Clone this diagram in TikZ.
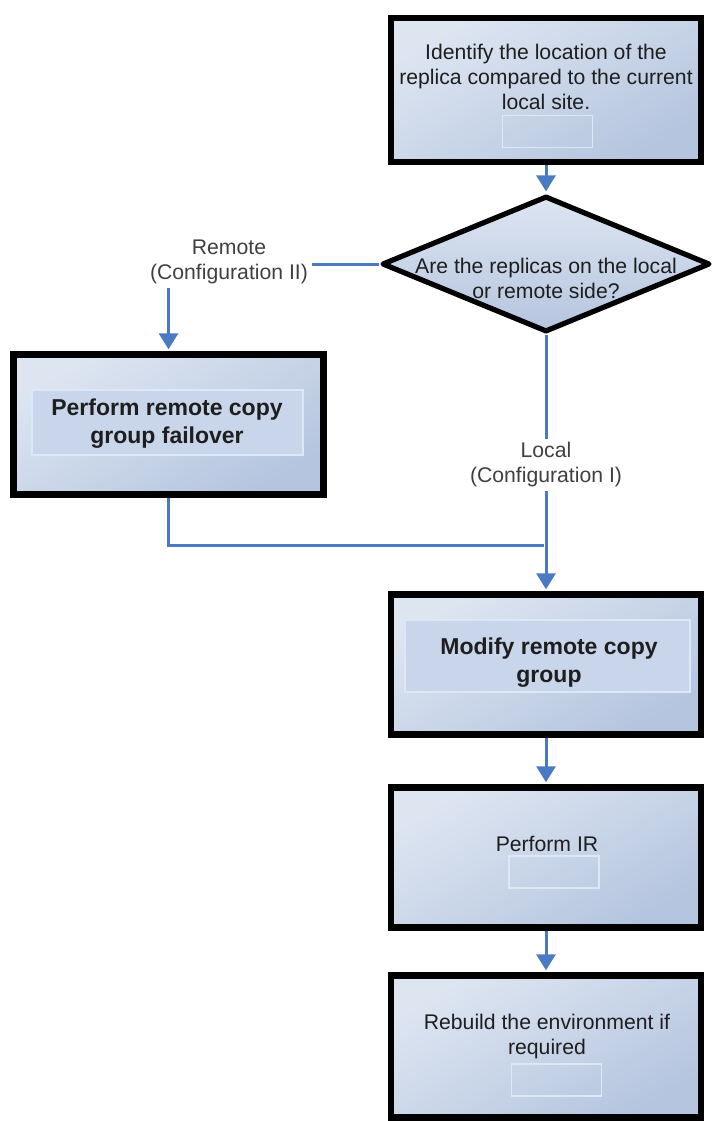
\documentclass[tikz,border=0pt]{standalone}
\usepackage{fontspec}
\setmainfont{Liberation Sans}
\usepackage{tikz}
\usetikzlibrary{shapes.geometric, arrows.meta}

\definecolor{boxlight}{HTML}{DDE5F1}
\definecolor{boxdark}{HTML}{B5C5DF}
\definecolor{flowblue}{HTML}{4A7AC2}
\definecolor{bandfill}{HTML}{C8D5EA}
\definecolor{bandline}{HTML}{DCE8F6}
\definecolor{inkgray}{HTML}{1E1E1E}

\begin{document}
\begin{tikzpicture}[x=0.5pt, y=-0.5pt, >={Triangle[width=9.5pt,length=8pt]}, font=\fontsize{10.6}{12.5}\selectfont]
    \tikzstyle{stepbox}=[rectangle, draw=black, line width=3.2pt, top color=boxlight, bottom color=boxdark, shading angle=30, minimum width=155pt, minimum height=70pt, inner sep=0pt]
    \tikzstyle{decision}=[diamond, draw=black, line width=2.6pt, line join=round, top color=boxlight, bottom color=boxdark, minimum width=164pt, minimum height=68pt, inner sep=0pt]
    \tikzstyle{steptext}=[text=inkgray, align=center, inner sep=0pt]
    \tikzstyle{boldtext}=[steptext, font=\fontsize{11.5}{14}\selectfont\bfseries]
    \tikzstyle{branch}=[fill=white, text=inkgray!85, align=center, inner sep=2pt]
    \tikzstyle{band}=[draw=bandline, line width=0.9pt, fill=bandfill]
    \tikzstyle{holder}=[draw=bandline, line width=0.7pt, minimum width=45pt, minimum height=16pt]
    \tikzstyle{flow}=[draw=flowblue, line width=1.5pt, shorten >=1pt]
    \useasboundingbox (0,0) rectangle (713,1121);

    \node[stepbox, minimum height=72pt] (identify) at (546,90) {};
    \node[decision] (decide) at (546,264) {};
    \node[stepbox] (failover) at (168.5,424.5) {};
    \node[stepbox] (modify) at (546,664.5) {};
    \node[stepbox] (performir) at (546,857.5) {};
    \node[stepbox, minimum height=71pt] (rebuild) at (546,1046.5) {};

    % inner panels
    \node[band, minimum width=135.5pt, minimum height=32.5pt] (failoverband) at (167.5,422.5) {};
    \node[band, minimum width=142.5pt, minimum height=36pt] (modifyband) at (547.5,656) {};
    \node[holder] (identifyholder) at (547.5,131.5) {};
    \node[holder] (performirholder) at (554,872) {};
    \node[holder] (rebuildholder) at (556.5,1080) {};

    \node[steptext] (identifytext) at (546,77) {Identify the location of the\\replica compared to the current\\local site.};
    \node[steptext] (decidetext) at (546,278) {Are the replicas on the local\\or remote side?};
    \node[boldtext] (failovertext) at (167,424) {Perform remote copy\\group failover};
    \node[boldtext] (modifytext) at (549,663) {Modify remote copy\\group};
    \node[steptext] (performirtext) at (547,844) {Perform IR};
    \node[steptext] (rebuildtext) at (547,1037) {Rebuild the environment if\\required};

    \coordinate (join) at (546,545);
    \draw[flow, ->] (identify.south) -- (decide.north);
    \draw[flow, ->] (decide.west) -| (failover.north);
    \draw[flow] (failover.south) |- (join);
    \draw[flow, ->] (decide.south) -- (modify.north);
    \draw[flow, ->] (modify.south) -- (performir.north);
    \draw[flow, ->] (performir.south) -- (rebuild.north);

    \node[branch] (remote) at (229,262) {Remote\\(Configuration II)};
    \node[branch] (local) at (546,465) {Local\\(Configuration I)};
\end{tikzpicture}
\end{document}
